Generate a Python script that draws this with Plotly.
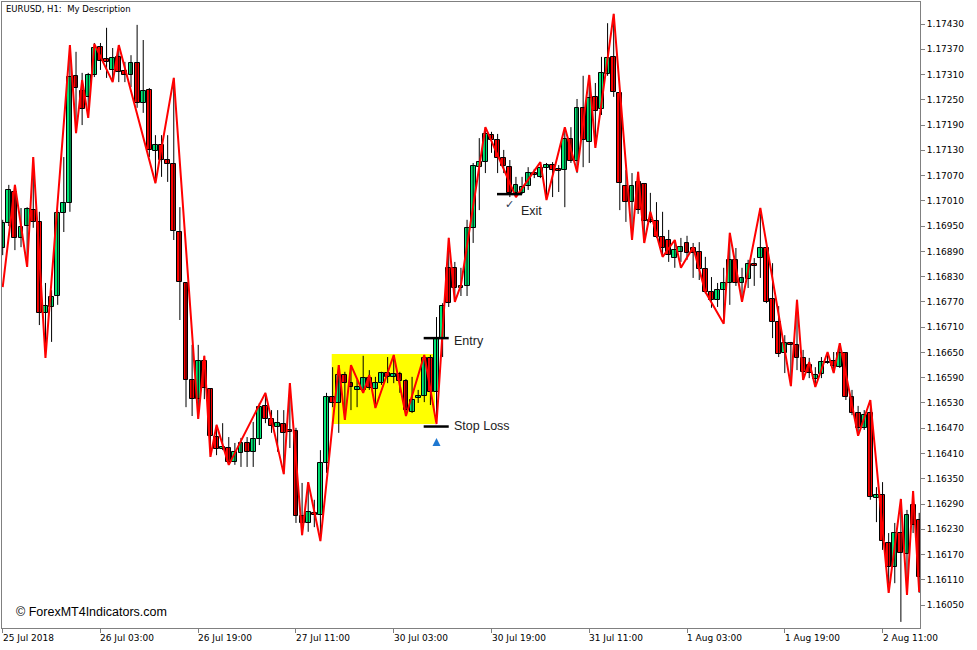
import plotly.graph_objects as go

# ---------------- data ----------------
bar_index = list(range(151))

open_ = [1.16898, 1.16957, 1.17031, 1.16922, 1.16950, 1.16988, 1.16960, 1.16744, 1.16758, 1.16784,
         1.16981, 1.17005, 1.17307, 1.17271, 1.17257, 1.17309, 1.17375, 1.17347, 1.17321, 1.17352,
         1.17318, 1.17309, 1.17337, 1.17242, 1.17273, 1.17128, 1.17143, 1.17107, 1.17098, 1.16936,
         1.16815, 1.16585, 1.16539, 1.16630, 1.16563, 1.16449, 1.16421, 1.16423, 1.16390, 1.16411,
         1.16435, 1.16414, 1.16444, 1.16523, 1.16492, 1.16473, 1.16480, 1.16466, 1.16463, 1.16262,
         1.16245, 1.16269, 1.16264, 1.16387, 1.16544, 1.16530, 1.16596, 1.16577, 1.16561, 1.16561,
         1.16589, 1.16563, 1.16577, 1.16601, 1.16592, 1.16599, 1.16582, 1.16509, 1.16542, 1.16547,
         1.16637, 1.16556, 1.16684, 1.16851, 1.16851, 1.16803, 1.16808, 1.16946, 1.17090, 1.17102,
         1.17166, 1.17155, 1.17112, 1.17090, 1.17029, 1.17029, 1.17045, 1.17076, 1.17067, 1.17088,
         1.17095, 1.17086, 1.17083, 1.17157, 1.17105, 1.17231, 1.17150, 1.17257, 1.17228, 1.17311,
         1.17352, 1.17266, 1.17045, 1.17007, 1.17055, 1.17050, 1.16965, 1.16962, 1.16924, 1.16917,
         1.16874, 1.16889, 1.16910, 1.16898, 1.16889, 1.16848, 1.16794, 1.16775, 1.16798, 1.16815,
         1.16870, 1.16815, 1.16824, 1.16860, 1.16874, 1.16898, 1.16777, 1.16722, 1.16649, 1.16672,
         1.16668, 1.16637, 1.16620, 1.16587, 1.16599, 1.16627, 1.16630, 1.16615, 1.16649, 1.16544,
         1.16506, 1.16471, 1.16506, 1.16304, 1.16311, 1.16197, 1.16140, 1.16221, 1.16171, 1.16288,
         1.16252]

high = [1.16965, 1.17048, 1.17048, 1.16993, 1.16995, 1.17114, 1.16984, 1.16815, 1.16798, 1.16988,
        1.17114, 1.17380, 1.17364, 1.17314, 1.17314, 1.17385, 1.17385, 1.17421, 1.17373, 1.17380,
        1.17340, 1.17356, 1.17428, 1.17392, 1.17278, 1.17166, 1.17166, 1.17166, 1.17302, 1.16995,
        1.16817, 1.16668, 1.16668, 1.16642, 1.16563, 1.16478, 1.16482, 1.16449, 1.16435, 1.16447,
        1.16449, 1.16485, 1.16530, 1.16554, 1.16513, 1.16513, 1.16513, 1.16577, 1.16471, 1.16340,
        1.16342, 1.16300, 1.16418, 1.16554, 1.16615, 1.16620, 1.16604, 1.16620, 1.16585, 1.16642,
        1.16608, 1.16592, 1.16604, 1.16639, 1.16644, 1.16604, 1.16587, 1.16592, 1.16561, 1.16644,
        1.16644, 1.16734, 1.16767, 1.16922, 1.16865, 1.16851, 1.16965, 1.17100, 1.17159, 1.17185,
        1.17174, 1.17169, 1.17131, 1.17107, 1.17067, 1.17067, 1.17090, 1.17086, 1.17102, 1.17100,
        1.17102, 1.17095, 1.17183, 1.17185, 1.17252, 1.17307, 1.17309, 1.17290, 1.17352, 1.17432,
        1.17454, 1.17273, 1.17083, 1.17076, 1.17079, 1.17052, 1.17029, 1.17007, 1.16984, 1.16941,
        1.16917, 1.16922, 1.16927, 1.16910, 1.16912, 1.16877, 1.16829, 1.16815, 1.16851, 1.16934,
        1.16898, 1.16851, 1.16870, 1.16874, 1.16993, 1.16900, 1.16862, 1.16760, 1.16691, 1.16675,
        1.16775, 1.16656, 1.16637, 1.16615, 1.16639, 1.16651, 1.16651, 1.16672, 1.16651, 1.16561,
        1.16523, 1.16513, 1.16537, 1.16330, 1.16342, 1.16221, 1.16245, 1.16302, 1.16276, 1.16321,
        1.16269]

low = [1.16881, 1.16950, 1.16893, 1.16900, 1.16858, 1.16946, 1.16715, 1.16637, 1.16675, 1.16763,
       1.16936, 1.16984, 1.17171, 1.17190, 1.17207, 1.17304, 1.17321, 1.17302, 1.17297, 1.17292,
       1.17292, 1.17280, 1.17231, 1.17219, 1.17114, 1.17052, 1.17067, 1.17055, 1.16917, 1.16727,
       1.16520, 1.16499, 1.16492, 1.16539, 1.16402, 1.16406, 1.16418, 1.16383, 1.16383, 1.16378,
       1.16378, 1.16378, 1.16430, 1.16482, 1.16459, 1.16414, 1.16361, 1.16423, 1.16245, 1.16216,
       1.16224, 1.16235, 1.16202, 1.16364, 1.16520, 1.16459, 1.16490, 1.16513, 1.16520, 1.16554,
       1.16561, 1.16518, 1.16573, 1.16577, 1.16577, 1.16554, 1.16499, 1.16506, 1.16530, 1.16532,
       1.16525, 1.16480, 1.16639, 1.16758, 1.16770, 1.16784, 1.16784, 1.16910, 1.16988, 1.17076,
       1.17124, 1.17076, 1.17076, 1.17019, 1.17019, 1.17026, 1.17036, 1.17064, 1.17064, 1.17012,
       1.17019, 1.17031, 1.16995, 1.17100, 1.17076, 1.17090, 1.17100, 1.17136, 1.17214, 1.17307,
       1.17257, 1.16988, 1.16960, 1.16917, 1.16979, 1.16910, 1.16957, 1.16922, 1.16877, 1.16865,
       1.16851, 1.16865, 1.16870, 1.16827, 1.16822, 1.16790, 1.16756, 1.16758, 1.16718, 1.16763,
       1.16808, 1.16770, 1.16803, 1.16808, 1.16827, 1.16767, 1.16684, 1.16639, 1.16601, 1.16570,
       1.16608, 1.16585, 1.16589, 1.16568, 1.16589, 1.16623, 1.16601, 1.16613, 1.16537, 1.16501,
       1.16452, 1.16466, 1.16300, 1.16247, 1.16181, 1.16079, 1.16102, 1.16010, 1.16074, 1.16221,
       1.16079]

close = [1.16957, 1.17036, 1.16922, 1.16948, 1.16991, 1.16960, 1.16744, 1.16760, 1.16782, 1.16981,
         1.17005, 1.17304, 1.17278, 1.17228, 1.17309, 1.17373, 1.17342, 1.17340, 1.17349, 1.17316,
         1.17309, 1.17337, 1.17242, 1.17271, 1.17131, 1.17143, 1.17107, 1.17098, 1.16938, 1.16817,
         1.16585, 1.16539, 1.16630, 1.16566, 1.16452, 1.16421, 1.16425, 1.16390, 1.16414, 1.16435,
         1.16414, 1.16444, 1.16520, 1.16492, 1.16475, 1.16482, 1.16459, 1.16461, 1.16262, 1.16245,
         1.16271, 1.16264, 1.16387, 1.16544, 1.16530, 1.16596, 1.16577, 1.16568, 1.16568, 1.16589,
         1.16566, 1.16577, 1.16601, 1.16592, 1.16599, 1.16582, 1.16513, 1.16537, 1.16547, 1.16637,
         1.16556, 1.16684, 1.16760, 1.16767, 1.16803, 1.16808, 1.16946, 1.17093, 1.17102, 1.17169,
         1.17155, 1.17112, 1.17093, 1.17029, 1.17048, 1.17043, 1.17076, 1.17071, 1.17088, 1.17095,
         1.17083, 1.17081, 1.17157, 1.17105, 1.17231, 1.17155, 1.17254, 1.17223, 1.17314, 1.17349,
         1.17269, 1.17052, 1.17007, 1.17045, 1.16988, 1.16962, 1.16960, 1.16924, 1.16898, 1.16881,
         1.16893, 1.16900, 1.16886, 1.16886, 1.16848, 1.16794, 1.16775, 1.16798, 1.16815, 1.16870,
         1.16815, 1.16827, 1.16860, 1.16855, 1.16898, 1.16770, 1.16722, 1.16646, 1.16672, 1.16668,
         1.16637, 1.16604, 1.16601, 1.16596, 1.16627, 1.16625, 1.16618, 1.16649, 1.16544, 1.16506,
         1.16471, 1.16501, 1.16307, 1.16311, 1.16202, 1.16140, 1.16221, 1.16174, 1.16264, 1.16240,
         1.16117]

# zigzag indicator vertices (bar index, price)
zigzag_bar = [0, 2, 4, 5, 7, 11, 12, 13, 14, 15, 18, 19, 25, 28, 32, 33, 34, 35, 37, 43,
              46, 47, 49, 50, 52, 55, 56, 57, 59, 60, 61, 64, 66, 69, 71, 73, 74, 75, 79, 84,
              88, 89, 92, 94, 96, 97, 100, 103, 104, 105, 106, 108, 110, 111, 113, 115, 118, 119, 121, 124,
              129, 130, 131, 132, 133, 135, 136, 137, 140, 142, 145, 147, 148, 149, 150]
zigzag_price = [1.16805, 1.17048, 1.16853, 1.17114, 1.16637, 1.17380, 1.17171, 1.17297, 1.17207, 1.17383,
                1.17292, 1.17380, 1.17052, 1.17302, 1.16492, 1.16642, 1.16402, 1.16478, 1.16383, 1.16554,
                1.16361, 1.16577, 1.16216, 1.16342, 1.16202, 1.16620, 1.16490, 1.16620, 1.16554, 1.16596,
                1.16518, 1.16644, 1.16499, 1.16644, 1.16480, 1.16922, 1.16770, 1.16810, 1.17185, 1.17019,
                1.17102, 1.17012, 1.17185, 1.17079, 1.17309, 1.17136, 1.17454, 1.16917, 1.17079, 1.16910,
                1.16984, 1.16877, 1.16917, 1.16851, 1.16900, 1.16794, 1.16718, 1.16934, 1.16770, 1.16993,
                1.16570, 1.16775, 1.16585, 1.16627, 1.16568, 1.16651, 1.16601, 1.16672, 1.16452, 1.16537,
                1.16079, 1.16302, 1.16074, 1.16321, 1.16081]

# time axis labels (every 16 bars)
date_ticks = [0, 16, 32, 48, 64, 80, 96, 112, 128, 144]
date_labels = ["25 Jul 2018", "26 Jul 03:00", "26 Jul 19:00", "27 Jul 11:00", "30 Jul 03:00",
               "30 Jul 19:00", "31 Jul 11:00", "1 Aug 03:00", "1 Aug 19:00", "2 Aug 11:00"]

# price axis labels
price_ticks = [1.17430, 1.17370, 1.17310, 1.17250, 1.17190, 1.17130, 1.17070, 1.17010,
               1.16950, 1.16890, 1.16830, 1.16770, 1.16710, 1.16650, 1.16590, 1.16530,
               1.16470, 1.16410, 1.16350, 1.16290, 1.16230, 1.16170, 1.16110, 1.16050]

# trade markers
signal_bar = 71
entry_price = 1.16684
stop_price = 1.16474
arrow_price = 1.16447
exit_bar = 83
exit_price = 1.17026
range_box = dict(start=53.85, end=70.75, top=1.16646, bottom=1.16480)

# ---------------- styling ----------------
BULL = "#00E676"
BEAR = "#FF0000"
X_RANGE = [-0.115, 150.13]
Y_RANGE = [1.159955, 1.174823]

fig = go.Figure()

# wicks
wx, wy = [], []
for i, h, l in zip(bar_index, high, low):
    wx += [i, i, None]
    wy += [l, h, None]
fig.add_trace(go.Scatter(x=wx, y=wy, mode="lines", line=dict(color="black", width=1),
                         hoverinfo="skip", showlegend=False))

# bodies
body_base = [min(o, c) for o, c in zip(open_, close)]
body_h = [abs(c - o) for o, c in zip(open_, close)]
body_col = [BULL if c >= o else BEAR for o, c in zip(open_, close)]
fig.add_trace(go.Bar(x=bar_index, y=body_h, base=body_base, width=0.8,
                     marker=dict(color=body_col, line=dict(color="black", width=1)),
                     hoverinfo="skip", showlegend=False))

# zigzag
fig.add_trace(go.Scatter(x=zigzag_bar, y=zigzag_price, mode="lines",
                         line=dict(color="#FF0000", width=2), hoverinfo="skip", showlegend=False))

# entry / stop / exit lines
for bar, price in [(signal_bar, entry_price), (signal_bar, stop_price), (exit_bar, exit_price)]:
    fig.add_trace(go.Scatter(x=[bar - 2.1, bar + 2.0], y=[price, price], mode="lines",
                             line=dict(color="black", width=2.5), hoverinfo="skip", showlegend=False))

# buy arrow
fig.add_trace(go.Scatter(x=[signal_bar], y=[arrow_price], mode="markers",
                         marker=dict(symbol="arrow-up", size=8, color="#1F78D1"),
                         hoverinfo="skip", showlegend=False))

fig.add_shape(type="rect", xref="x", yref="y", x0=range_box["start"], x1=range_box["end"],
              y0=range_box["bottom"], y1=range_box["top"], fillcolor="#FFFF00",
              line=dict(width=0), layer="below")

ann = []
txt_font = dict(family="Liberation Sans, Arial", size=12.5, color="#222222")
ann.append(dict(x=signal_bar + 2.0, y=entry_price, xref="x", yref="y", text="Entry",
                showarrow=False, xanchor="left", yanchor="middle", xshift=3, yshift=-3, font=txt_font))
ann.append(dict(x=signal_bar + 2.0, y=stop_price, xref="x", yref="y", text="Stop Loss",
                showarrow=False, xanchor="left", yanchor="middle", xshift=3, yshift=1, font=txt_font))
ann.append(dict(x=exit_bar + 1.8, y=exit_price, xref="x", yref="y", text="Exit",
                showarrow=False, xanchor="left", yanchor="middle", xshift=-2, yshift=-17, font=txt_font))
ann.append(dict(x=exit_bar, y=exit_price, xref="x", yref="y", text="✓",
                showarrow=False, xanchor="center", yanchor="middle", yshift=-10,
                font=dict(family="DejaVu Sans", size=11, color="#2a3550")))

for t, lab in zip(date_ticks, date_labels):
    ann.append(dict(x=t, y=0, xref="x", yref="paper", text=lab, showarrow=False,
                    xanchor="left", yanchor="top", xshift=-2, yshift=-3,
                    font=dict(family="DejaVu Sans", size=9, color="black")))

ann.append(dict(x=0.0022, y=0.9888, xref="paper", yref="paper", text="EURUSD, H1:  My Description",
                showarrow=False, xanchor="left", yanchor="middle",
                font=dict(family="DejaVu Sans", size=8.5, color="black")))
ann.append(dict(x=0.0131, y=0.0256, xref="paper", yref="paper", text="© ForexMT4Indicators.com",
                showarrow=False, xanchor="left", yanchor="middle",
                font=dict(family="Liberation Sans, Arial", size=12.5, color="black")))

fig.update_layout(
    width=977, height=650,
    margin=dict(l=2, r=57, t=2, b=22),
    paper_bgcolor="white", plot_bgcolor="white",
    showlegend=False, annotations=ann, bargap=0,
    xaxis=dict(range=X_RANGE, showgrid=False, zeroline=False, showline=True, mirror=True,
               linecolor="#808080", linewidth=1, ticks="outside", ticklen=4, tickcolor="#808080",
               tickvals=date_ticks, showticklabels=False, fixedrange=True),
    yaxis=dict(range=Y_RANGE, side="right", showgrid=False, zeroline=False, showline=True,
               mirror=True, linecolor="#808080", linewidth=1, ticks="outside", ticklen=4,
               tickcolor="#808080", tickvals=price_ticks,
               ticktext=["%.5f" % p for p in price_ticks],
               tickfont=dict(family="DejaVu Sans", size=9, color="black"), fixedrange=True),
)

fig.write_html("out.html", config={"displayModeBar": False},
               post_script="document.body.style.margin='0px';")
